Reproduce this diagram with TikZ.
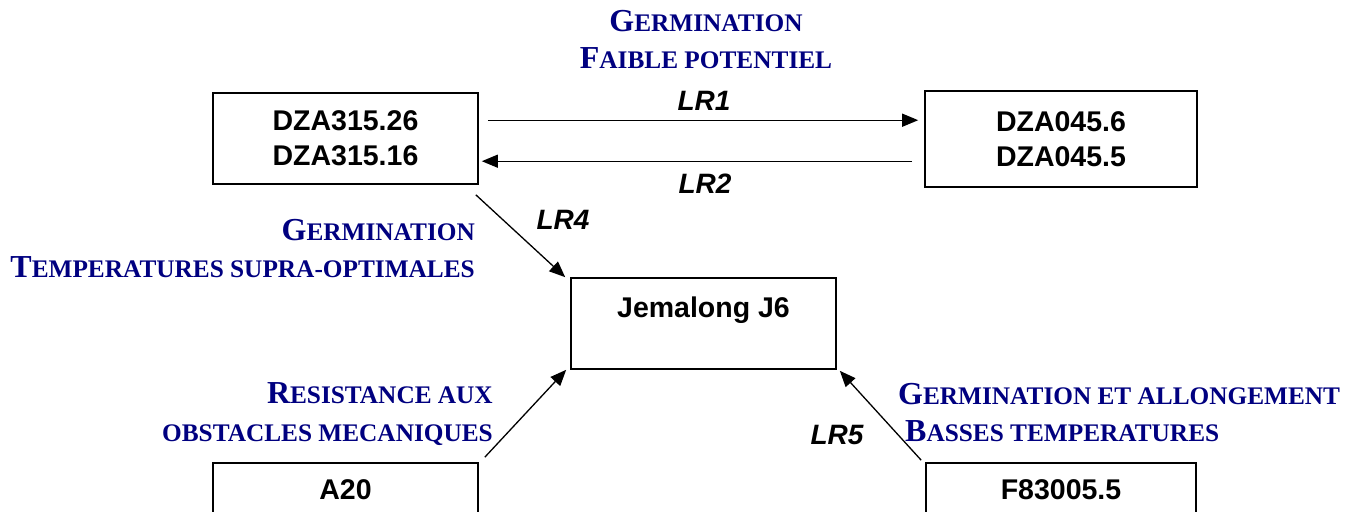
\documentclass[tikz,border=0pt]{standalone}
\usepackage{fontspec}
\setmainfont{Liberation Serif}
\newfontfamily\arialf{Liberation Sans}
\usetikzlibrary{arrows.meta,calc}
\definecolor{navyblue}{RGB}{0,0,128}
\newcommand{\mysc}[2]{{\fontsize{32}{36}\selectfont #1}{\fontsize{25.3}{36}\selectfont #2}}
\tikzset{
  box/.style={draw, line width=1.6pt, inner sep=0pt, align=center,
    font=\arialf\bfseries\fontsize{28.5}{35}\selectfont},
  boxtxt/.style={inner sep=0pt, font=\arialf\bfseries\fontsize{28.5}{35}\selectfont},
  lrtxt/.style={inner sep=0pt, font=\arialf\bfseries\itshape\fontsize{28}{32}\selectfont},
  bluetxt/.style={inner sep=0pt, text=navyblue, font=\bfseries},
  arr/.style={-{Triangle[length=16pt,width=13pt]}, line width=1.3pt}
}
\begin{document}
\begin{tikzpicture}[x=1pt,y=-1pt]
\useasboundingbox (0,0) rectangle (1359,511);
\clip (0,0) rectangle (1359,511);
% boxes
\node[box, minimum width=265pt, minimum height=91pt] (dza315) at (345.5,138.5) {DZA315.26\\DZA315.16};
\node[box, minimum width=272pt, minimum height=96pt] (dza045) at (1061,139) {DZA045.6\\DZA045.5};
\node[box, minimum width=265pt, minimum height=91pt] (jem) at (703.5,323.5) {};
\node[boxtxt, anchor=base] (jemt) at ($(jem.north)+(0,40)$) {Jemalong J6};
\node[box, minimum width=265pt, minimum height=91pt] (a20) at (345.5,508.5) {};
\node[boxtxt, anchor=base] (a20t) at ($(a20.north)+(0,37)$) {A20};
\node[box, minimum width=270pt, minimum height=91pt] (f83) at (1061,508.5) {};
\node[boxtxt, anchor=base] (f83t) at ($(f83.north)+(0,37)$) {F83005.5};
% arrows
\draw[arr] ($(dza315.north east)+(9,28)$) -- ($(dza045.north west)+(-6,30)$);
\draw[arr] ($(dza045.north west)+(-12,71)$) -- ($(dza315.north east)+(3,69)$);
\draw[arr] ($(dza315.south east)+(-3,10)$) -- ($(jem.north west)+(-5,0)$);
\draw[arr] ($(a20.north east)+(6,-5)$) -- ($(jem.south west)+(-4,0)$);
\draw[arr] ($(f83.north west)+(-4,-2)$) -- ($(jem.south east)+(3,1)$);
% LR labels
\node[lrtxt, anchor=base] (lr1) at (704,110) {LR1};
\node[lrtxt, anchor=base] (lr2) at (705,193) {LR2};
\node[lrtxt, anchor=base] (lr4) at (563,229) {LR4};
\node[lrtxt, anchor=base] (lr5) at (837,444) {LR5};
% blue labels
\node[bluetxt, anchor=base] (t1) at (706,32) {\mysc{G}{ERMINATION}};
\node[bluetxt, anchor=base] (t2) at (706,68) {\mysc{F}{AIBLE POTENTIEL}};
\node[bluetxt, anchor=base east] (l1) at (475,240) {\mysc{G}{ERMINATION}};
\node[bluetxt, anchor=base east] (l2) at (475,277) {\mysc{T}{EMPERATURES SUPRA-OPTIMALES}};
\node[bluetxt, anchor=base east] (b1) at (493,403) {\mysc{R}{ESISTANCE AUX}};
\node[bluetxt, anchor=base east] (b2) at (493,441) {\mysc{}{OBSTACLES MECANIQUES}};
\node[bluetxt, anchor=base west] (r1) at (898,404) {\mysc{G}{ERMINATION ET ALLONGEMENT}};
\node[bluetxt, anchor=base west] (r2) at (905,441) {\mysc{B}{ASSES TEMPERATURES}};
\end{tikzpicture}
\end{document}
